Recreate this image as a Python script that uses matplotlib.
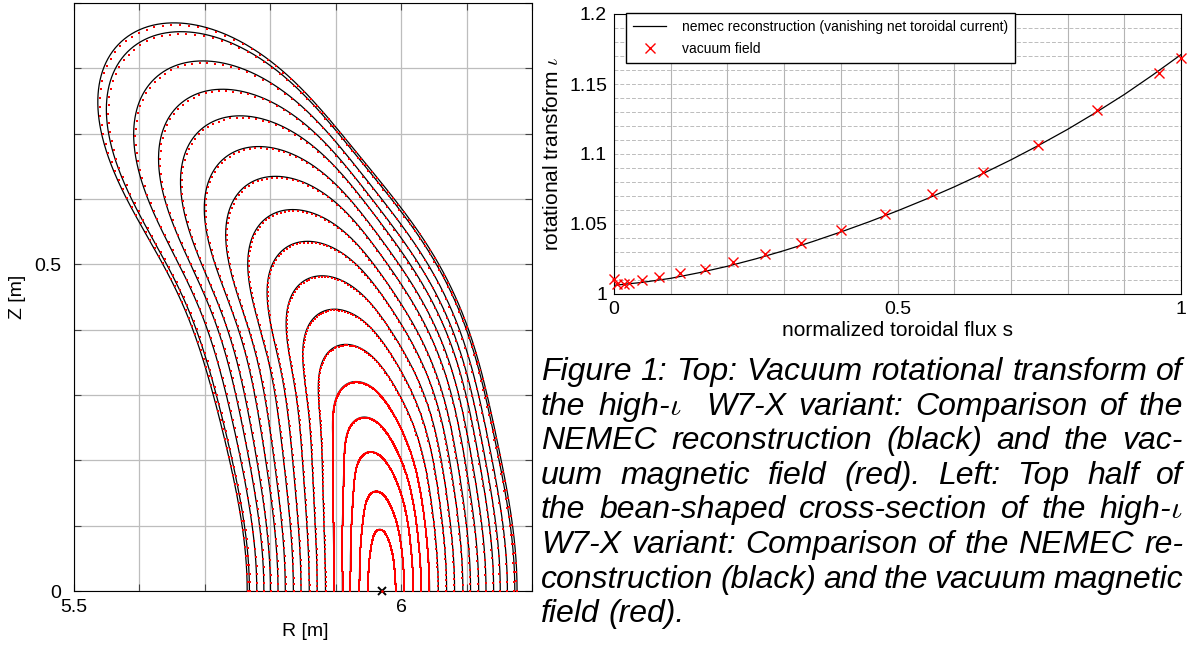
import numpy as np
import matplotlib
matplotlib.use("Agg")
import matplotlib.pyplot as plt
from matplotlib.ticker import MultipleLocator, FormatStrFormatter

plt.rcParams['font.family'] = ['Liberation Sans', 'DejaVu Sans']
plt.rcParams['mathtext.fontset'] = 'cm'

# ---- left panel: outermost flux surface (outer midplane -> inner midplane)
bound_R = [6.176, 6.173, 6.160, 6.141, 6.113, 6.093, 6.067, 6.039, 6.014, 5.940, 5.860,
           5.806, 5.786, 5.745, 5.704, 5.668, 5.638, 5.602, 5.571, 5.551, 5.540, 5.536,
           5.538, 5.546, 5.578, 5.616, 5.658, 5.690, 5.720, 5.743, 5.756, 5.761]
bound_Z = [0.000, 0.060, 0.174, 0.275, 0.369, 0.418, 0.476, 0.527, 0.573, 0.670, 0.755,
           0.803, 0.816, 0.841, 0.859, 0.868, 0.871, 0.867, 0.852, 0.826, 0.798, 0.767,
           0.737, 0.691, 0.621, 0.540, 0.451, 0.363, 0.275, 0.199, 0.117, 0.000]
axis_R = 5.9705
# where each nested surface cuts Z=0 (inner side / outer side) and its top height
cross_in = [5.9485, 5.9347, 5.9209, 5.9083, 5.8956, 5.8827, 5.8700, 5.8583, 5.8456,
            5.8338, 5.8216, 5.8109, 5.7986, 5.7885, 5.7768, 5.7641, 5.7613]
cross_out = [5.9908, 6.0035, 6.0173, 6.0291, 6.0417, 6.0555, 6.0683, 6.0810, 6.0937,
             6.1055, 6.1182, 6.1300, 6.1411, 6.1514, 6.1616, 6.1717, 6.1758]
top_Z = [0.0965, 0.156, 0.214, 0.270, 0.325, 0.379, 0.431, 0.484, 0.533, 0.582, 0.632,
         0.678, 0.724, 0.770, 0.813, 0.854, 0.870]

# ---- right panel: rotational transform
s_nemec = [0, 0.05, 0.1, 0.15, 0.2, 0.25, 0.3, 0.35, 0.4, 0.45, 0.5, 0.55, 0.6, 0.65,
           0.7, 0.75, 0.8, 0.85, 0.9, 0.95, 1.0]
iota_nemec = [1.0062, 1.0083, 1.0112, 1.0152, 1.0198, 1.0251, 1.0310, 1.0374, 1.0443,
              1.0516, 1.0594, 1.0677, 1.0765, 1.0859, 1.0958, 1.1064, 1.1176, 1.1297,
              1.1425, 1.1564, 1.1710]
s_vac = [0, 0.005, 0.017, 0.027, 0.05, 0.080, 0.117, 0.161, 0.209, 0.266, 0.330, 0.401,
         0.478, 0.561, 0.650, 0.748, 0.852, 0.961, 1.0]
iota_vac = [1.0107, 1.0071, 1.0071, 1.0078, 1.0099, 1.0118, 1.0147, 1.0182, 1.0230, 1.0289,
            1.0362, 1.0457, 1.0571, 1.0711, 1.0872, 1.1066, 1.1315, 1.1580, 1.1689]

caption = ["Figure 1: Top: Vacuum rotational transform of",
           r"the high-$\iota$  W7-X variant: Comparison of the",
           "NEMEC reconstruction (black) and the vac-",
           "uum magnetic field (red). Left: Top half of",
           r"the bean-shaped cross-section of the high-$\iota$",
           "W7-X variant: Comparison of the NEMEC re-",
           "construction (black) and the vacuum magnetic",
           "field (red)."]

W, H = 1187, 646
fig = plt.figure(figsize=(W / 100, H / 100), dpi=100)

# boundary as a fourier series in an arc-length angle
bR = np.array(bound_R)
bZ = np.array(bound_Z)
seg = np.hypot(np.diff(bR), np.diff(bZ))
th_b = np.pi * np.concatenate([[0], np.cumsum(seg)]) / seg.sum()
M = 10
mm = np.arange(M)
rc = np.linalg.lstsq(np.cos(np.outer(th_b, mm)), bR, rcond=None)[0]
zs = np.linalg.lstsq(np.sin(np.outer(th_b, mm[1:])), bZ, rcond=None)[0]

# surface label from the midplane width, near-axis elongation from the tops
cin = np.array(cross_in)
cout = np.array(cross_out)
a_b = (cout[-1] - cin[-1]) / 2
rhos = (cout - cin) / (2 * a_b)
xx = rhos[:-1] - rhos[:-1]**2
yy = np.array(top_Z[:-1]) - rhos[:-1]**2 * top_Z[-1]
b_ax = np.sum(xx * yy) / np.sum(xx * xx)


def surface(rho, th):
    BR = np.cos(np.outer(th, mm)) @ rc
    BZ = np.sin(np.outer(th, mm[1:])) @ zs
    ER = a_b * np.cos(th)
    EZ = b_ax * np.sin(th)
    return (axis_R + rho * ER + rho**2 * (BR - axis_R - ER),
            rho * EZ + rho**2 * (BZ - EZ))


ax1 = fig.add_axes([74 / W, 1 - 591 / H, 458 / W, 588 / H])
th = np.linspace(0, np.pi, 800)
for rho in rhos:
    R, Z = surface(rho, th)
    ax1.plot(R, Z, color='black', lw=0.9, zorder=3)
for i, rho in enumerate(rhos):
    n = 420 if i < 5 else 150
    tv = np.linspace(0, np.pi, n)
    R, Z = surface(rho * 0.996, tv)
    ax1.plot(R, Z, ls='none', marker='s', ms=1.7, mew=0, color='red', zorder=4)
ax1.plot([axis_R], [0], marker='x', color='black', ms=6, mew=1.4, clip_on=False, zorder=6)
ax1.plot([axis_R], [0], marker='o', color='red', ms=2, mew=0, clip_on=False, zorder=7)

ax1.set_xlim(5.5, 6.2)
ax1.set_ylim(0, 0.9)
ax1.xaxis.set_major_locator(MultipleLocator(0.5))
ax1.yaxis.set_major_locator(MultipleLocator(0.5))
ax1.xaxis.set_minor_locator(MultipleLocator(0.1))
ax1.yaxis.set_minor_locator(MultipleLocator(0.1))
ax1.xaxis.set_major_formatter(FormatStrFormatter('%g'))
ax1.yaxis.set_major_formatter(FormatStrFormatter('%g'))
ax1.grid(True, which='both', color='#bdbdbd', lw=0.9)
ax1.tick_params(which='both', direction='in', length=5, width=0.8, color='#444444',
                top=True, right=True, labelsize=14)
ax1.tick_params(axis='x', pad=6)
ax1.tick_params(axis='y', pad=9)
ax1.set_xlabel('R [m]', fontsize=14)
ax1.set_ylabel('Z [m]', fontsize=14)
ax1.xaxis.set_label_coords((305 - 74) / 458, -(632 - 591) / 588)
ax1.yaxis.set_label_coords(-(74 - 18) / 458, 0.5)
ax1.xaxis.label.set_va('center')
ax1.yaxis.label.set_va('center')

ax2 = fig.add_axes([614 / W, 1 - 294 / H, 567 / W, 280 / H])
ax2.plot(s_nemec, iota_nemec, color='black', lw=0.9,
         label='nemec reconstruction (vanishing net toroidal current)', zorder=3)
ax2.plot(s_vac, iota_vac, ls='none', marker='x', color='red', ms=7.5, mew=1.0,
         label='vacuum field', clip_on=False, zorder=4)
ax2.set_xlim(0, 1)
ax2.set_ylim(1, 1.2)
ax2.xaxis.set_major_locator(MultipleLocator(0.5))
ax2.xaxis.set_minor_locator(MultipleLocator(0.1))
ax2.yaxis.set_major_locator(MultipleLocator(0.05))
ax2.yaxis.set_minor_locator(MultipleLocator(0.01))
ax2.xaxis.set_major_formatter(FormatStrFormatter('%g'))
ax2.yaxis.set_major_formatter(FormatStrFormatter('%g'))
ax2.grid(True, which='both', axis='y', color='#bcbcbc', lw=0.7, ls=(0, (4, 2)))
ax2.grid(True, which='both', axis='x', color='#b4b4b4', lw=0.8)
ax2.tick_params(which='both', direction='in', length=0, labelsize=14)
ax2.tick_params(axis='x', pad=5)
ax2.tick_params(axis='y', pad=5)
ax2.set_xlabel('normalized toroidal flux s', fontsize=15)
ax2.set_ylabel(r'rotational transform $\iota$', fontsize=15)
ax2.xaxis.set_label_coords(0.5, -(331 - 294) / 280)
ax2.yaxis.set_label_coords(-(614 - 553) / 567, 0.5)
ax2.xaxis.label.set_va('center')
ax2.yaxis.label.set_va('center')
leg = ax2.legend(loc='upper left', bbox_to_anchor=(626 / W, 1 - 12.7 / H),
                 bbox_transform=fig.transFigure, borderaxespad=0, fontsize=10,
                 fancybox=False, framealpha=1, edgecolor='black', handlelength=2.4,
                 handletextpad=1.1, labelspacing=0.6, borderpad=0.5)
leg.get_frame().set_linewidth(1.0)
leg.set_zorder(10)

# justified caption
fig.canvas.draw()
rend = fig.canvas.get_renderer()
x0, x1 = 541, 1183
fs = 23
for i, line in enumerate(caption):
    yb = 380 + i * 34.6
    words = line.split(' ')
    texts = [fig.text(0, 1 - yb / H, w, fontsize=fs, style='italic', va='baseline', ha='left')
             for w in words]
    wd = [t.get_window_extent(rend).width for t in texts]
    if i == len(caption) - 1:
        gap = 0.278 * fs * 100 / 72
    else:
        gap = (x1 - x0 - sum(wd)) / (len(words) - 1)
    x = x0
    for t, w in zip(texts, wd):
        t.set_x(x / W)
        x += w + gap

fig.savefig('out.png', dpi=100)
